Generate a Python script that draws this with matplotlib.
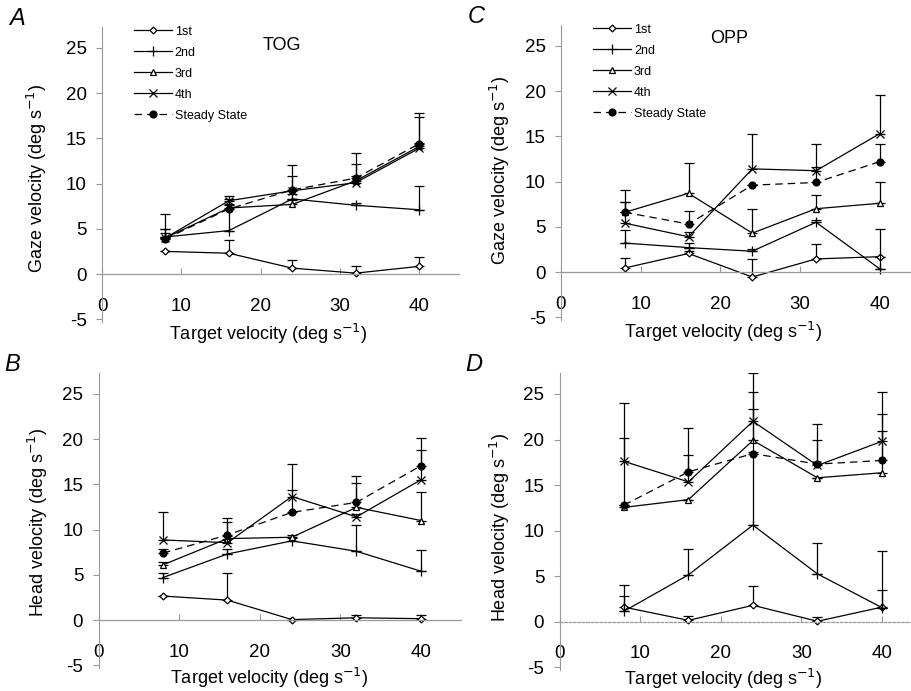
import matplotlib
matplotlib.use("Agg")
import matplotlib.pyplot as plt

plt.rcParams['font.family'] = ['Liberation Sans', 'DejaVu Sans']
plt.rcParams['axes.unicode_minus'] = False

# target velocities (deg/s)
target_vel = [8, 16, 24, 32, 40]
series_labels = ['1st', '2nd', '3rd', '4th', 'Steady State']

# A: TOG, gaze velocity (rows = 1st, 2nd, 3rd, 4th, steady state)
tog_gaze = [[2.5, 2.3, 0.65, 0.1, 0.85],
            [4.1, 4.8, 8.3, 7.6, 7.1],
            [4.0, 7.3, 7.7, 10.3, 14.1],
            [4.0, 8.1, 9.2, 10.1, 13.9],
            [3.9, 7.2, 9.3, 10.6, 14.4]]
tog_gaze_err = [[0.0, 1.5, 0.85, 0.8, 1.0],
                [0.9, 2.8, 0.5, 0.3, 2.6],
                [0.5, 0.4, 0.5, 0.5, 0.4],
                [1.0, 0.2, 1.6, 2.1, 3.4],
                [2.7, 1.4, 2.8, 2.8, 3.4]]

# B: TOG, head velocity
tog_head = [[2.65, 2.2, 0.05, 0.25, 0.15],
            [4.7, 7.3, 8.75, 7.6, 5.4],
            [6.1, 9.0, 9.15, 12.45, 11.0],
            [8.85, 8.55, 13.65, 11.4, 15.5],
            [7.4, 9.4, 11.9, 13.0, 17.05]]
tog_head_err = [[0.0, 3.05, 0.0, 0.3, 0.4],
                [0.5, 0.5, 0.3, 2.9, 2.35],
                [0.3, 0.3, 0.3, 2.65, 3.2],
                [3.05, 2.3, 3.6, 0.3, 3.3],
                [0.5, 1.9, 2.5, 2.95, 3.05]]

# C: OPP, gaze velocity
opp_gaze = [[0.45, 2.05, -0.55, 1.45, 1.7],
            [3.2, 2.7, 2.3, 5.5, 0.35],
            [6.6, 8.7, 4.3, 7.0, 7.6],
            [5.4, 3.9, 11.4, 11.2, 15.3],
            [6.6, 5.3, 9.6, 9.9, 12.2]]
opp_gaze_err = [[1.05, 0.3, 2.0, 1.6, 0.0],
                [1.4, 0.5, 0.3, 0.3, 4.4],
                [2.5, 3.3, 2.7, 1.5, 2.3],
                [2.3, 0.5, 3.8, 2.9, 4.3],
                [1.1, 1.5, 0.0, 1.7, 2.0]]

# D: OPP, head velocity
opp_head = [[1.6, 0.15, 1.8, 0.05, 1.6],
            [1.15, 5.15, 10.6, 5.25, 1.55],
            [12.55, 13.4, 19.9, 15.8, 16.35],
            [17.6, 15.35, 22.0, 17.15, 19.8],
            [12.8, 16.45, 18.45, 17.3, 17.7]]
opp_head_err = [[2.45, 0.5, 2.1, 0.5, 1.9],
                [1.65, 2.8, 8.0, 3.4, 6.25],
                [7.65, 0.0, 3.5, 0.0, 4.55],
                [6.4, 5.95, 5.3, 4.55, 5.4],
                [0.0, 1.85, 6.75, 2.7, 5.1]]

styles = [dict(marker='D', ms=3.5, mfc='white', ls='-'),
          dict(marker='+', ms=7, mfc='black', ls='-'),
          dict(marker='^', ms=5, mfc='white', ls='-'),
          dict(marker='x', ms=5.5, mfc='black', ls='-'),
          dict(marker='o', ms=5, mfc='black', ls=(0, (6, 4)))]

fig = plt.figure(figsize=(9.11, 6.91), dpi=100)
W, H = 911.0, 691.0


def make_axes(x0, ytop, ybot, px_per_unit, xmax):
    # x0: pixel of x=0, ytop/ybot: pixel rows of ylim
    left = x0 / W
    width = xmax * px_per_unit / W
    bottom = (H - ybot) / H
    height = (ybot - ytop) / H
    return fig.add_axes([left, bottom, width, height])


def draw_panel(ax, means, errs, letter, ylab, title=None, legend=False,
               zero_ls='-', xlab_x=21, xlab_y=-6.6, ylab_pos=(-8, 10.6)):
    ax.set_xlim(0, 45)
    ax.set_ylim(-5.3, 27.3)
    for sp in ['top', 'right']:
        ax.spines[sp].set_visible(False)
    ax.spines['left'].set_color('#999999')
    ax.spines['left'].set_linewidth(0.8)
    ax.spines['bottom'].set_position(('data', 0))
    ax.spines['bottom'].set_color('#999999')
    ax.spines['bottom'].set_linewidth(0.9)
    ax.spines['bottom'].set_linestyle(zero_ls)
    ax.set_xticks([0, 10, 20, 30, 40])
    ax.set_yticks([-5, 0, 5, 10, 15, 20, 25])
    ax.tick_params(axis='x', direction='in', length=4, width=0.8,
                   color='#999999', pad=17, labelsize=13.5)
    ax.tick_params(axis='y', direction='out', length=4, width=0.8,
                   color='#999999', pad=7, labelsize=13.5)
    ax.patch.set_visible(False)

    handles = []
    for i in range(5):
        st = styles[i]
        ax.errorbar(target_vel, means[i], yerr=[[0] * 5, errs[i]], fmt='none',
                    ecolor='black', elinewidth=0.9, capsize=3.5, capthick=0.9)
        ln, = ax.plot(target_vel, means[i], color='black', lw=0.9,
                      linestyle=st['ls'], marker=st['marker'], ms=st['ms'],
                      mfc=st['mfc'], mec='black', mew=0.9,
                      label=series_labels[i])
        handles.append(ln)

    ax.text(xlab_x, xlab_y, 'Target velocity (deg s$^{-1}$)', ha='center',
            va='center', fontsize=13, clip_on=False)
    ax.text(ylab_pos[0], ylab_pos[1], ylab, rotation=90, ha='center',
            va='center', fontsize=13, clip_on=False)
    ax.text(-0.26, 1.03, letter, transform=ax.transAxes, fontsize=17,
            style='italic', ha='left', va='center')
    if title:
        ax.text(title[1], title[2], title[0], ha='center', va='center',
                fontsize=13)
    if legend:
        ax.legend(handles=handles, loc='upper left', frameon=False,
                  bbox_to_anchor=(0.09, 1.005), fontsize=9, handlelength=3.0,
                  handletextpad=0.25, labelspacing=0.72, borderpad=0,
                  numpoints=1, borderaxespad=0)


axA = make_axes(102, 27, 322, 7.93, 45)
draw_panel(axA, tog_gaze, tog_gaze_err, 'A', 'Gaze velocity (deg s$^{-1}$)',
           title=('TOG', 22.7, 25.3), legend=True, xlab_x=21,
           ylab_pos=(-8.2, 10.6))

axC = make_axes(561, 25, 320, 7.97, 45)
draw_panel(axC, opp_gaze, opp_gaze_err, 'C', 'Gaze velocity (deg s$^{-1}$)',
           title=('OPP', 21.1, 25.8), legend=True, xlab_x=20.3,
           ylab_pos=(-7.65, 11.2))

axB = make_axes(98.5, 373, 668, 8.06, 45)
draw_panel(axB, tog_head, tog_head_err, 'B', 'Head velocity (deg s$^{-1}$)',
           xlab_x=21.2, xlab_y=-6.4, ylab_pos=(-7.5, 10.8))

axD = make_axes(559.5, 373, 670, 8.06, 45)
draw_panel(axD, opp_head, opp_head_err, 'D', 'Head velocity (deg s$^{-1}$)',
           zero_ls=(0, (2, 1.5)), xlab_x=20.3, xlab_y=-6.3,
           ylab_pos=(-7.4, 10.4))

fig.savefig('out.png', dpi=100)
